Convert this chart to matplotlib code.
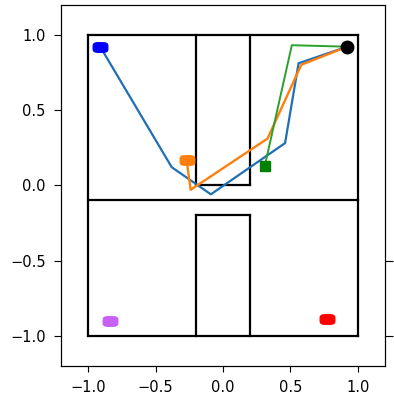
import numpy as np
import matplotlib.pyplot as plt
from matplotlib.path import Path

# maze walls: (x0, y0, x1, y1)
wall_x0 = [-1.0, -1.0, -1.0, 1.0, -1.0, -0.2, -0.2, 0.2, -0.2, -0.2, 0.2]
wall_y0 = [-1.0, 1.0, -1.0, -1.0, -0.1, 1.0, 0.0, 0.0, -1.0, -0.2, -0.2]
wall_x1 = [1.0, 1.0, -1.0, 1.0, 1.0, -0.2, 0.2, 0.2, -0.2, 0.2, 0.2]
wall_y1 = [-1.0, 1.0, 1.0, 1.0, -0.1, 0.0, 0.0, 1.0, -0.2, -0.2, -1.0]

# paths
blue_x = [-0.91, -0.38, -0.09, 0.46, 0.56, 0.92]
blue_y = [0.92, 0.12, -0.06, 0.28, 0.81, 0.92]
orange_x = [-0.27, -0.24, 0.33, 0.58, 0.92]
orange_y = [0.17, -0.03, 0.31, 0.80, 0.92]
green_x = [0.31, 0.51, 0.92]
green_y = [0.13, 0.93, 0.92]

# start / goal markers
pill_x = [-0.91, -0.27, -0.84, 0.77]
pill_y = [0.92, 0.17, -0.90, -0.89]
pill_c = ['#0000ff', '#ff7f0e', '#c660f7', '#ff0000']
square_x, square_y = [0.31], [0.13]
goal_x, goal_y = [0.92], [0.92]

# rounded-rectangle marker (superellipse), wider than tall
t = np.linspace(0, 2 * np.pi, 60)
c, s = np.cos(t), np.sin(t)
px = np.sign(c) * np.abs(c) ** 0.5
py = 0.65 * np.sign(s) * np.abs(s) ** 0.5
pill = Path(np.column_stack([px, py]), closed=True)

fig = plt.figure(figsize=(3.94, 3.94), dpi=100)
ax = fig.add_axes([0.155, 0.071, 0.822, 0.9175])

for x0, y0, x1, y1 in zip(wall_x0, wall_y0, wall_x1, wall_y1):
    ax.plot([x0, x1], [y0, y1], color='black', lw=1.6, solid_capstyle='projecting', zorder=2)

ax.plot(blue_x, blue_y, color='#1f6fb4', lw=1.6, zorder=3)
ax.plot(orange_x, orange_y, color='#ff7f0e', lw=1.7, zorder=3)
ax.plot(green_x, green_y, color='#2ca02c', lw=1.4, zorder=3)

for x, y, col in zip(pill_x, pill_y, pill_c):
    ax.plot([x], [y], marker=pill, ms=10.5, color=col, mec=col, ls='none', zorder=4)
ax.plot(square_x, square_y, marker='s', ms=6.5, color='#008000', ls='none', zorder=4)
ax.plot(goal_x, goal_y, marker='o', ms=9, color='black', ls='none', zorder=4)

ax.set_xlim(-1.2, 1.2)
ax.set_ylim(-1.2, 1.2)
ticks = [-1.0, -0.5, 0.0, 0.5, 1.0]
ax.set_xticks(ticks)
ax.set_yticks(ticks)
ax.set_xticklabels(['−1.0', '−0.5', '0.0', '0.5', '1.0'])
ax.set_yticklabels(['−1.0', '−0.5', '0.0', '0.5', '1.0'])
ax.tick_params(axis='y', length=5, pad=6, labelsize=10.5)
ax.tick_params(axis='x', length=4, pad=6, labelsize=10.5)

ax2 = ax.twinx()
ax2.set_ylim(-1.2, 1.2)
ax2.set_yticks([-1.0, -0.5])
ax2.set_yticklabels([])
ax2.tick_params(axis='y', length=6)

fig.savefig('out.png', dpi=100)
